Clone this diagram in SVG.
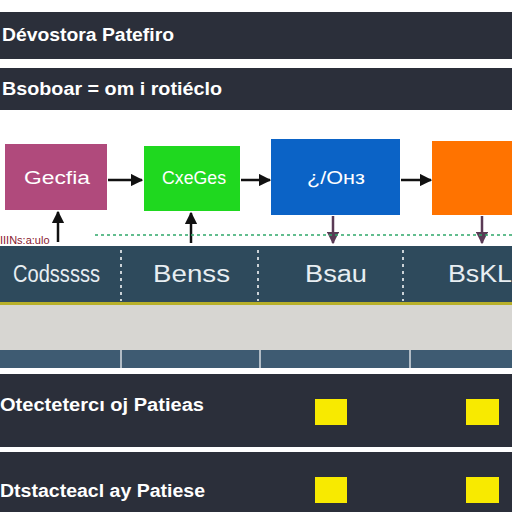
<svg xmlns="http://www.w3.org/2000/svg" width="512" height="512" viewBox="0 0 512 512">
<defs>
<style>
.bar{fill:#2b2f3a}
.bt{font-family:"Liberation Sans",Arial,sans-serif;font-weight:bold;font-size:18px;fill:#ffffff}
.nt{font-family:"Liberation Sans",Arial,sans-serif;font-size:18px;fill:#ffffff}
.ct{font-family:"Liberation Sans",Arial,sans-serif;font-size:23px;fill:#e8eef2}
.arr{stroke:#111111;stroke-width:2.5;fill:none}
.varr{stroke:#5a3a55;stroke-width:2.5;fill:none}
.sq{fill:#f8ea00}
</style>
<marker id="ah" viewBox="0 0 10 10" refX="9" refY="5" markerWidth="5" markerHeight="5" orient="auto"><path d="M0,0 L10,5 L0,10 z" fill="#111111"/></marker>
<marker id="ahp" viewBox="0 0 10 10" refX="9" refY="5" markerWidth="5" markerHeight="5" orient="auto"><path d="M0,0 L10,5 L0,10 z" fill="#5a3a55"/></marker>
</defs>
<rect width="512" height="512" fill="#ffffff"/>
<g id="header1"><rect class="bar" x="0" y="12" width="512" height="47"/><text class="bt" x="2" y="41" textLength="172" lengthAdjust="spacingAndGlyphs">Dévostora Patefiro</text></g>
<g id="header2"><rect class="bar" x="0" y="68" width="512" height="42"/><text class="bt" x="2" y="95" textLength="220" lengthAdjust="spacingAndGlyphs">Bsoboar = om i rotiéclo</text></g>
<g id="node-pink"><rect x="5" y="144" width="102" height="66" fill="#b04a7c"/><text class="nt" x="24" y="184" textLength="66" lengthAdjust="spacingAndGlyphs">Gecfia</text></g>
<g id="node-green"><rect x="144" y="146" width="96" height="65" fill="#1fd81f"/><text class="nt" x="162" y="184" textLength="64" lengthAdjust="spacingAndGlyphs">CxeGes</text></g>
<g id="node-blue"><rect x="271" y="139" width="129" height="76" fill="#0b63c6"/><text class="nt" x="307" y="184" textLength="58" lengthAdjust="spacingAndGlyphs">¿/Oнз</text></g>
<g id="node-orange"><rect x="432" y="141" width="80" height="74" fill="#ff7300"/></g>
<g id="connectors">
<line class="arr" x1="108" y1="180" x2="142" y2="180" marker-end="url(#ah)"/>
<line class="arr" x1="241" y1="180" x2="270" y2="180" marker-end="url(#ah)"/>
<line class="arr" x1="401" y1="180" x2="431" y2="180" marker-end="url(#ah)"/>
<line class="arr" x1="58" y1="242" x2="58" y2="212" marker-end="url(#ah)"/>
<line class="arr" x1="191" y1="243" x2="191" y2="213" marker-end="url(#ah)"/>
<line class="varr" x1="333" y1="216" x2="333" y2="243" marker-end="url(#ahp)"/>
<line class="varr" x1="482" y1="216" x2="482" y2="243" marker-end="url(#ahp)"/>
<line x1="95" y1="235" x2="512" y2="235" stroke="#2fa86a" stroke-width="1.5" stroke-dasharray="3 3"/>
</g>
<text x="0" y="244" font-family="Liberation Sans,Arial,sans-serif" font-size="11" fill="#8a2030">IIINs:a:ulo</text>
<g id="columns">
<rect x="0" y="246" width="512" height="56" fill="#2e4a5c"/>
<rect x="0" y="302" width="512" height="3" fill="#b8b02a"/>
<g stroke="#ffffff" stroke-width="1.5" stroke-dasharray="3 4">
<line x1="121" y1="250" x2="121" y2="301"/><line x1="258" y1="250" x2="258" y2="301"/><line x1="403" y1="250" x2="403" y2="301"/>
</g>
<text class="ct" x="13" y="282" textLength="87" lengthAdjust="spacingAndGlyphs">Codsssss</text>
<text class="ct" x="153" y="282" textLength="77" lengthAdjust="spacingAndGlyphs">Benss</text>
<text class="ct" x="305" y="282" textLength="62" lengthAdjust="spacingAndGlyphs">Bsau</text>
<text class="ct" x="448" y="282" textLength="64" lengthAdjust="spacingAndGlyphs">BsKL</text>
<rect x="0" y="305" width="512" height="45" fill="#d7d6d2"/>
<rect x="0" y="350" width="512" height="18" fill="#3e5b72"/>
<g stroke="#d8dde2" stroke-width="1.5"><line x1="121" y1="350" x2="121" y2="368"/><line x1="260" y1="350" x2="260" y2="368"/><line x1="410" y1="350" x2="410" y2="368"/></g>
</g>
<g id="row1"><rect class="bar" x="0" y="374" width="512" height="73"/><text class="bt" x="0" y="411" textLength="204" lengthAdjust="spacingAndGlyphs">Otectetercı oj Patieas</text>
<rect class="sq" x="315" y="399" width="32" height="26"/><rect class="sq" x="466" y="399" width="33" height="26"/></g>
<g id="row2"><rect class="bar" x="0" y="452" width="512" height="60"/><text class="bt" x="0" y="497" textLength="205" lengthAdjust="spacingAndGlyphs">Dtstacteacl ay Patiese</text>
<rect class="sq" x="315" y="477" width="32" height="26"/><rect class="sq" x="466" y="477" width="33" height="26"/></g>
</svg>
